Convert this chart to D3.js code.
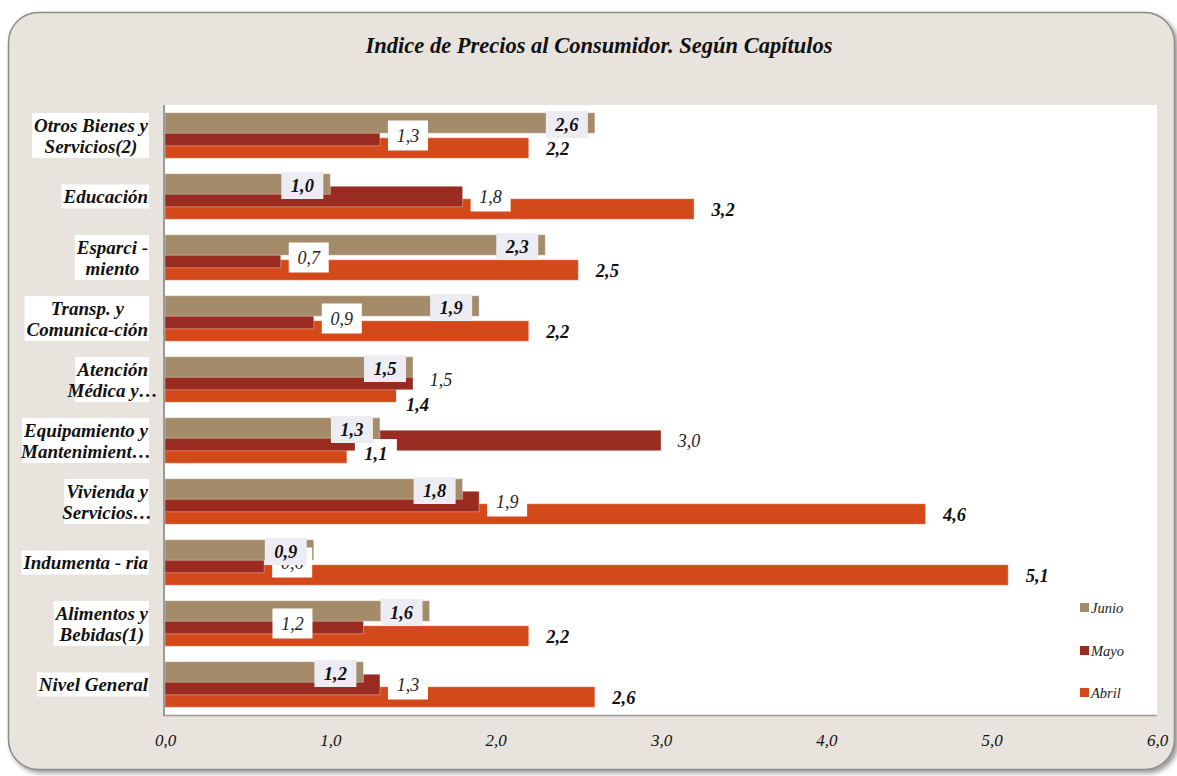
<!DOCTYPE html>
<html>
<head>
<meta charset="utf-8">
<script src="https://cdn.jsdelivr.net/npm/d3@7"></script>
<style>
  html, body { margin: 0; padding: 0; background: #ffffff; }
  svg { display: block; }
  text { font-family: "Liberation Serif", "Times New Roman", serif; }
</style>
</head>
<body>
<svg id="chart" width="1177" height="776"></svg>
<script>
// ---- data ----
const title = "Indice de Precios al Consumidor. Según Capítulos";
const categories = [
  ["Otros Bienes y", "Servicios(2)"],
  ["Educación"],
  ["Esparci -", "miento"],
  ["Transp. y", "Comunica-ción"],
  ["Atención", "Médica y…"],
  ["Equipamiento y", "Mantenimient…"],
  ["Vivienda y", "Servicios…"],
  ["Indumenta - ria"],
  ["Alimentos y", "Bebidas(1)"],
  ["Nivel General"]
];
const seriesNames = ["Junio", "Mayo", "Abril"];
const junio = [2.6, 1.0, 2.3, 1.9, 1.5, 1.3, 1.8, 0.9, 1.6, 1.2];
const mayo  = [1.3, 1.8, 0.7, 0.9, 1.5, 3.0, 1.9, 0.6, 1.2, 1.3];
const abril = [2.2, 3.2, 2.5, 2.2, 1.4, 1.1, 4.6, 5.1, 2.2, 2.6];
const xTicks = [0, 1, 2, 3, 4, 5, 6];
// labels that were moved by hand in the original (box left edge on the value axis, vertical shift)
const mayoLabelMoved = { 8: { at: 0.65, dy: 0 } };
const abrilLabelMoved = { 4: { at: 1.4, dy: 12 } };

const colors = { Junio: "#a48c6b", Mayo: "#992b20", Abril: "#d4491a" };

// ---- layout ----
const svg = d3.select("#chart");
const plot = { left: 165, right: 1157, top: 105, bottom: 715 };

const defs = svg.append("defs");
const f = defs.append("filter").attr("id", "shadow").attr("x", "-5%").attr("y", "-5%").attr("width", "110%").attr("height", "110%");
f.append("feDropShadow").attr("dx", 3).attr("dy", 3).attr("stdDeviation", 2.5)
  .attr("flood-color", "#444").attr("flood-opacity", 0.55);

// frame
svg.append("rect")
  .attr("x", 8.5).attr("y", 12.5).attr("width", 1166).attr("height", 757)
  .attr("rx", 30).attr("ry", 30)
  .attr("fill", "#e8e4dd").attr("stroke", "#8c8c8c").attr("stroke-width", 1.5)
  .attr("filter", "url(#shadow)");

// title
svg.append("text")
  .attr("x", 599).attr("y", 53)
  .attr("text-anchor", "middle")
  .style("font-size", "22.5px").style("font-weight", "bold").style("font-style", "italic")
  .attr("fill", "#111")
  .text(title);

// plot area
svg.append("rect")
  .attr("x", plot.left).attr("y", plot.top)
  .attr("width", plot.right - plot.left).attr("height", plot.bottom - plot.top)
  .attr("fill", "#ffffff");

const x = d3.scaleLinear().domain([0, 6]).range([plot.left, plot.right]);
const y = d3.scaleBand().domain(d3.range(categories.length)).range([plot.top, plot.bottom]).paddingInner(0).paddingOuter(0);

const bw = y.bandwidth();          // ~61
const barH = bw * 0.336;           // ~20.5
const step = bw * 0.205;           // ~12.5
const off0 = (bw - (barH + 2 * step)) / 2;
const seriesIndex = { Junio: 0, Mayo: 1, Abril: 2 };
const seriesData = { Junio: junio, Mayo: mayo, Abril: abril };
const barY = (s, i) => y(i) + off0 + seriesIndex[s] * step;

// bars: draw Abril first, then Mayo, then Junio on top
["Abril", "Mayo", "Junio"].forEach(s => {
  svg.append("g").selectAll("rect").data(seriesData[s]).join("rect")
    .attr("x", x(0))
    .attr("y", (d, i) => barY(s, i))
    .attr("width", d => x(d) - x(0))
    .attr("height", barH)
    .attr("fill", colors[s])
    .attr("stroke", "rgba(255,255,255,0.35)")
    .attr("stroke-width", 1);
});

// axes lines
svg.append("line").attr("x1", plot.left - 1).attr("x2", plot.left - 1)
  .attr("y1", plot.top).attr("y2", plot.bottom + 1)
  .attr("stroke", "#9a9a9a").attr("stroke-width", 2);
svg.append("line").attr("x1", plot.left - 1).attr("x2", plot.right)
  .attr("y1", plot.bottom + 0.5).attr("y2", plot.bottom + 0.5)
  .attr("stroke", "#9a9a9a").attr("stroke-width", 1.5);

// x axis tick labels
const xAxis = d3.axisBottom(x).tickValues(xTicks).tickSize(0).tickPadding(19)
  .tickFormat(d => d3.format(".1f")(d).replace(".", ","));
const gx = svg.append("g").attr("transform", `translate(0,${plot.bottom})`).call(xAxis);
gx.select(".domain").remove();
gx.selectAll("text")
  .style("font-family", '"Liberation Serif", serif')
  .style("font-size", "17px").style("font-style", "italic")
  .attr("fill", "#111");

// category labels
const labelRight = 148;
const catG = svg.append("g");
categories.forEach((lines, i) => {
  const g = catG.append("g");
  const cy = y(i) + bw / 2;
  const lh = 21;
  const texts = lines.map((ln, k) => g.append("text")
    .attr("y", cy + (k - (lines.length - 1) / 2) * lh + 6.5)
    .attr("text-anchor", "middle")
    .style("font-size", "19px").style("font-weight", "bold").style("font-style", "italic")
    .attr("fill", "#111")
    .text(ln));
  const widths = texts.map(t => t.node().getComputedTextLength());
  let w = d3.max(widths.filter((wd, k) => !lines[k].endsWith("…")));
  if (!w) w = d3.max(widths);
  const cx = labelRight - w / 2;
  texts.forEach(t => t.attr("x", cx));
  const h = lines.length * lh + 3;
  g.insert("rect", "text")
    .attr("x", labelRight - w - 2).attr("y", cy - h / 2)
    .attr("width", w + 3).attr("height", h)
    .attr("fill", "#ffffff");
});

// data labels
const fmt = v => d3.format(".1f")(v).replace(".", ",");
// Mayo: outside end, white box, italic
mayo.forEach((v, i) => {
  const mv = mayoLabelMoved[i];
  const cy = barY("Mayo", i) + barH / 2 + (mv ? mv.dy : 0);
  const bx = mv ? x(mv.at) : x(v) + 8;
  svg.append("rect").attr("x", bx).attr("y", cy - 15).attr("width", 40).attr("height", 30).attr("fill", "#ffffff");
  svg.append("text").attr("x", bx + 20).attr("y", cy + 6.5).attr("text-anchor", "middle")
    .style("font-size", "18px").style("font-style", "italic")
    .attr("fill", "#222").text(fmt(v));
});
// Abril: outside end, white box, bold italic
abril.forEach((v, i) => {
  const mv = abrilLabelMoved[i];
  const cy = barY("Abril", i) + barH / 2 + (mv ? mv.dy : 0);
  const bx = mv ? x(mv.at) : x(v) + 8;
  svg.append("rect").attr("x", bx).attr("y", cy - 14).attr("width", 42).attr("height", 28).attr("fill", "#ffffff");
  svg.append("text").attr("x", bx + 21).attr("y", cy + 6.5).attr("text-anchor", "middle")
    .style("font-size", "18.5px").style("font-weight", "bold").style("font-style", "italic")
    .attr("fill", "#111").text(fmt(v));
});
// Junio: inside end, lavender box, bold italic
junio.forEach((v, i) => {
  const cy = barY("Junio", i) + barH / 2 + 1.5;
  const bx = x(v) - 7 - 42;
  svg.append("rect").attr("x", bx).attr("y", cy - 13.5).attr("width", 42).attr("height", 27).attr("fill", "#edecf3");
  svg.append("text").attr("x", bx + 21).attr("y", cy + 6.5).attr("text-anchor", "middle")
    .style("font-size", "18.5px").style("font-weight", "bold").style("font-style", "italic")
    .attr("fill", "#111").text(fmt(v));
});

// legend
const legY = [607.5, 650.5, 692.5];
seriesNames.forEach((s, k) => {
  svg.append("rect").attr("x", 1080).attr("y", legY[k] - 4.5).attr("width", 9).attr("height", 9).attr("fill", colors[s]);
  svg.append("text").attr("x", 1091).attr("y", legY[k] + 5)
    .style("font-size", "14.5px").style("font-style", "italic")
    .attr("fill", "#222").text(s);
});
</script>
</body>
</html>
